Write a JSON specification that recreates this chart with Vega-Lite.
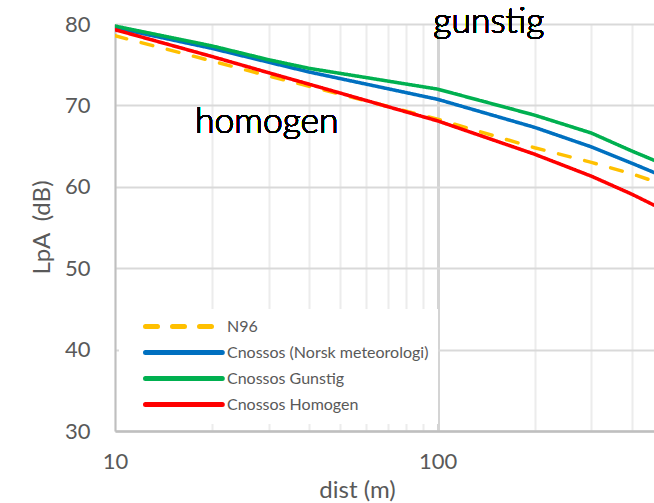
{
  "$schema": "https://vega.github.io/schema/vega-lite/v6.json",
  "width": 539,
  "height": 407,
  "autosize": {"type": "none"},
  "padding": {"left": 115, "top": 24, "right": 0, "bottom": 72},
  "background": "white",
  "config": {
    "view": {"stroke": null},
    "font": "Lato",
    "legend": {
      "orient": "none",
      "legendX": 4,
      "legendY": 285,
      "fillColor": "white",
      "padding": 9,
      "rowPadding": 5,
      "symbolType": "M1.5,0H14.3",
      "symbolSize": 144,
      "symbolStrokeWidth": 5,
      "labelOffset": 82,
      "labelFont": "Lato",
      "labelFontSize": 16,
      "labelColor": "#595959",
      "labelLimit": 400
    }
  },
  "data": {
    "values": [
      {"series": "N96", "dist": 10, "LpA": 78.55},
      {"series": "N96", "dist": 20, "LpA": 75.45},
      {"series": "N96", "dist": 30, "LpA": 73.6},
      {"series": "N96", "dist": 40, "LpA": 72.35},
      {"series": "N96", "dist": 100, "LpA": 68.3},
      {"series": "N96", "dist": 200, "LpA": 64.8},
      {"series": "N96", "dist": 300, "LpA": 63.0},
      {"series": "N96", "dist": 400, "LpA": 61.6},
      {"series": "N96", "dist": 500, "LpA": 60.3},
      {"series": "Cnossos (Norsk meteorologi)", "dist": 10, "LpA": 79.55},
      {"series": "Cnossos (Norsk meteorologi)", "dist": 20, "LpA": 77.0},
      {"series": "Cnossos (Norsk meteorologi)", "dist": 30, "LpA": 75.3},
      {"series": "Cnossos (Norsk meteorologi)", "dist": 40, "LpA": 74.1},
      {"series": "Cnossos (Norsk meteorologi)", "dist": 100, "LpA": 70.75},
      {"series": "Cnossos (Norsk meteorologi)", "dist": 200, "LpA": 67.3},
      {"series": "Cnossos (Norsk meteorologi)", "dist": 300, "LpA": 64.9},
      {"series": "Cnossos (Norsk meteorologi)", "dist": 400, "LpA": 62.9},
      {"series": "Cnossos (Norsk meteorologi)", "dist": 500, "LpA": 61.3},
      {"series": "Cnossos Gunstig", "dist": 10, "LpA": 79.75},
      {"series": "Cnossos Gunstig", "dist": 20, "LpA": 77.3},
      {"series": "Cnossos Gunstig", "dist": 30, "LpA": 75.6},
      {"series": "Cnossos Gunstig", "dist": 40, "LpA": 74.55},
      {"series": "Cnossos Gunstig", "dist": 100, "LpA": 72.0},
      {"series": "Cnossos Gunstig", "dist": 200, "LpA": 68.8},
      {"series": "Cnossos Gunstig", "dist": 300, "LpA": 66.6},
      {"series": "Cnossos Gunstig", "dist": 400, "LpA": 64.4},
      {"series": "Cnossos Gunstig", "dist": 500, "LpA": 62.8},
      {"series": "Cnossos Homogen", "dist": 10, "LpA": 79.3},
      {"series": "Cnossos Homogen", "dist": 20, "LpA": 76.0},
      {"series": "Cnossos Homogen", "dist": 30, "LpA": 74.0},
      {"series": "Cnossos Homogen", "dist": 40, "LpA": 72.6},
      {"series": "Cnossos Homogen", "dist": 100, "LpA": 68.1},
      {"series": "Cnossos Homogen", "dist": 200, "LpA": 64.0},
      {"series": "Cnossos Homogen", "dist": 300, "LpA": 61.3},
      {"series": "Cnossos Homogen", "dist": 400, "LpA": 59.1},
      {"series": "Cnossos Homogen", "dist": 500, "LpA": 57.2}
    ]
  },
  "layer": [
    {
      "mark": {"type": "line", "strokeWidth": 3.5, "strokeCap": "round", "strokeJoin": "round", "clip": true},
      "encoding": {
        "x": {
          "field": "dist",
          "type": "quantitative",
          "scale": {"type": "log", "domain": [10, 469], "nice": false},
          "axis": {
            "title": "dist (m)",
            "values": [10, 20, 30, 40, 50, 60, 70, 80, 90, 100, 200, 300, 400],
            "labelExpr": "datum.value == 10 || datum.value == 100 ? datum.label : ''",
            "labelFontSize": 22,
            "labelColor": "#595959",
            "labelPadding": 20,
            "labelFlush": false,
            "labelOverlap": false,
            "ticks": false,
            "domainColor": "#bfbfbf",
            "domainWidth": 2.5,
            "grid": true,
            "gridColor": {"condition": {"test": "datum.value == 100", "value": "#d4d4d4"}, "value": "#ececec"},
            "gridWidth": {"condition": {"test": "datum.value == 100", "value": 3}, "value": 2},
            "titleFontSize": 24,
            "titleFontWeight": "normal",
            "titleColor": "#595959",
            "titleX": 242,
            "titleY": 59,
            "titleAlign": "center",
            "titleBaseline": "middle"
          }
        },
        "y": {
          "field": "LpA",
          "type": "quantitative",
          "scale": {"domain": [30, 80], "nice": false, "zero": false},
          "axis": {
            "title": "LpA\u00a0 (dB)",
            "values": [30, 40, 50, 60, 70, 80],
            "labelFontSize": 22,
            "labelColor": "#595959",
            "labelPadding": 25,
            "ticks": false,
            "domainColor": "#bfbfbf",
            "domainWidth": 2,
            "grid": true,
            "gridColor": "#d9d9d9",
            "gridWidth": 2,
            "titleFontSize": 24,
            "titleFontWeight": "normal",
            "titleColor": "#595959",
            "titleX": -73,
            "titleY": 203,
            "titleAngle": -90,
            "titleAlign": "center",
            "titleBaseline": "middle"
          }
        },
        "color": {
          "field": "series",
          "type": "nominal",
          "sort": null,
          "scale": {
            "domain": ["N96", "Cnossos (Norsk meteorologi)", "Cnossos Gunstig", "Cnossos Homogen"],
            "range": ["#FFC000", "#0070C0", "#00B050", "#FF0000"]
          },
          "legend": {
            "title": null,
            "encode": {"symbols": {"update": {"strokeCap": {"value": "round"}}}}
          }
        },
        "strokeDash": {
          "field": "series",
          "type": "nominal",
          "sort": null,
          "scale": {
            "domain": ["N96", "Cnossos (Norsk meteorologi)", "Cnossos Gunstig", "Cnossos Homogen"],
            "range": [[12, 15], [1, 0], [1, 0], [1, 0]]
          },
          "legend": {"title": null}
        }
      }
    },
    {
      "mark": {"type": "text", "text": "gunstig", "font": "Lato", "fontSize": 35.5, "fontWeight": 300, "align": "left", "baseline": "alphabetic", "fill": "#000000", "stroke": null},
      "encoding": {
        "x": {"datum": 97, "type": "quantitative"},
        "y": {"datum": 78.9, "type": "quantitative"}
      }
    },
    {
      "mark": {"type": "text", "text": "homogen", "font": "Lato", "fontSize": 35.5, "fontWeight": 300, "align": "left", "baseline": "alphabetic", "fill": "#000000", "stroke": null},
      "encoding": {
        "x": {"datum": 17.7, "type": "quantitative"},
        "y": {"datum": 66.6, "type": "quantitative"}
      }
    }
  ]
}
